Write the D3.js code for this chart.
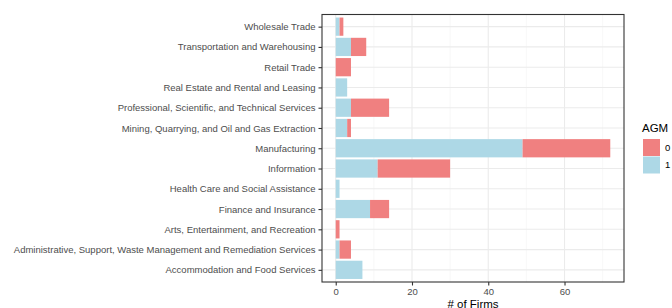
<!DOCTYPE html>
<html>
<head>
<meta charset="utf-8">
<script src="https://cdn.jsdelivr.net/npm/d3@7"></script>
<style>
  body { margin: 0; background: #fff; }
  svg text { font-family: "Liberation Sans", Arial, Helvetica, sans-serif; }
</style>
</head>
<body>
<div id="chart"></div>
<script>
// categories top to bottom
var industries = [
  'Wholesale Trade',
  'Transportation and Warehousing',
  'Retail Trade',
  'Real Estate and Rental and Leasing',
  'Professional, Scientific, and Technical Services',
  'Mining, Quarrying, and Oil and Gas Extraction',
  'Manufacturing',
  'Information',
  'Health Care and Social Assistance',
  'Finance and Insurance',
  'Arts, Entertainment, and Recreation',
  'Administrative, Support, Waste Management and Remediation Services',
  'Accommodation and Food Services'
];
// counts per AGM group
var agm1 = [1, 4, 0, 3, 4, 3, 49, 11, 1, 9, 0, 1, 7];
var agm0 = [1, 4, 4, 0, 10, 1, 23, 19, 0, 5, 1, 3, 0];
var groups = ['0', '1'];
var groupColours = ['#F08080', '#ADD8E6'];
var xTicks = [0, 20, 40, 60];

var width = 672, height = 308;
var margin = {top: 14.5, right: 48, bottom: 26, left: 322};
var pw = width - margin.left - margin.right;
var ph = height - margin.top - margin.bottom;

var svg = d3.select('#chart').append('svg')
  .attr('width', width)
  .attr('height', height);

var totals = industries.map((d, i) => agm1[i] + agm0[i]);
var xMax = d3.max(totals);
var x = d3.scaleLinear()
  .domain([-0.05 * xMax, 1.05 * xMax])
  .range([margin.left, margin.left + pw]);

// discrete scale with ggplot style 0.6 expansion
var n = industries.length;
var step = ph / (n - 1 + 1.2);
var yc = d3.scalePoint()
  .domain(industries)
  .range([margin.top + 0.6 * step, margin.top + ph - 0.6 * step]);
var barH = 0.9 * step;

var g = svg.append('g');

// minor grid
var minor = d3.range(10, xMax + 10, 20).filter(v => x(v) < margin.left + pw);
g.selectAll('line.minor')
  .data(minor)
  .join('line')
  .attr('x1', d => x(d)).attr('x2', d => x(d))
  .attr('y1', margin.top).attr('y2', margin.top + ph)
  .attr('stroke', '#F2F2F2')
  .attr('stroke-width', 0.55);

// major grid
g.selectAll('line.majx')
  .data(xTicks)
  .join('line')
  .attr('x1', d => x(d)).attr('x2', d => x(d))
  .attr('y1', margin.top).attr('y2', margin.top + ph)
  .attr('stroke', '#EBEBEB')
  .attr('stroke-width', 1.1);
g.selectAll('line.majy')
  .data(industries)
  .join('line')
  .attr('x1', margin.left).attr('x2', margin.left + pw)
  .attr('y1', d => yc(d)).attr('y2', d => yc(d))
  .attr('stroke', '#EBEBEB')
  .attr('stroke-width', 1.1);

// stacked bars: 1 first, 0 on top
var rows = industries.map((d, i) => ({name: d, v1: agm1[i], v0: agm0[i]}));
var bars = svg.append('g');
bars.selectAll('rect.b1')
  .data(rows)
  .join('rect')
  .attr('x', d => x(0))
  .attr('width', d => x(d.v1) - x(0))
  .attr('y', d => yc(d.name) - barH / 2)
  .attr('height', barH)
  .attr('fill', groupColours[1]);
bars.selectAll('rect.b0')
  .data(rows)
  .join('rect')
  .attr('x', d => x(d.v1))
  .attr('width', d => x(d.v1 + d.v0) - x(d.v1))
  .attr('y', d => yc(d.name) - barH / 2)
  .attr('height', barH)
  .attr('fill', groupColours[0]);

// panel border
svg.append('rect')
  .attr('x', margin.left).attr('y', margin.top)
  .attr('width', pw).attr('height', ph)
  .attr('fill', 'none')
  .attr('stroke', '#333333')
  .attr('stroke-width', 1.1);

// axes
var xAxis = svg.append('g')
  .attr('transform', 'translate(0,' + (margin.top + ph) + ')')
  .call(d3.axisBottom(x).tickValues(xTicks).tickSize(3.5).tickPadding(2.5));
var yAxis = svg.append('g')
  .attr('transform', 'translate(' + margin.left + ',0)')
  .call(d3.axisLeft(yc).tickSize(3.5).tickPadding(3));
[xAxis, yAxis].forEach(function(a) {
  a.select('.domain').remove();
  a.selectAll('line').attr('stroke', '#333333').attr('stroke-width', 1.1);
  a.selectAll('text')
    .attr('fill', '#4D4D4D')
    .attr('font-size', 9.5)
    .style('font-family', '"Liberation Sans", Arial, sans-serif');
});

svg.append('text')
  .attr('x', margin.left + pw / 2)
  .attr('y', 307.5)
  .attr('text-anchor', 'middle')
  .attr('font-size', 11.5)
  .attr('fill', '#000')
  .text('# of Firms');

// legend
var legend = svg.append('g').attr('transform', 'translate(643,0)');
legend.append('text')
  .attr('x', -1).attr('y', 132)
  .attr('font-size', 11.5)
  .text('AGM');
var items = legend.selectAll('g.item')
  .data(groups)
  .join('g')
  .attr('transform', (d, i) => 'translate(0,' + (139 + i * 17.5) + ')');
items.append('rect')
  .attr('width', 17).attr('height', 17)
  .attr('fill', (d, i) => groupColours[i]);
items.append('text')
  .attr('x', 22).attr('y', 8.5)
  .attr('dy', '0.35em')
  .attr('font-size', 9.5)
  .text(d => d);
</script>
</body>
</html>
